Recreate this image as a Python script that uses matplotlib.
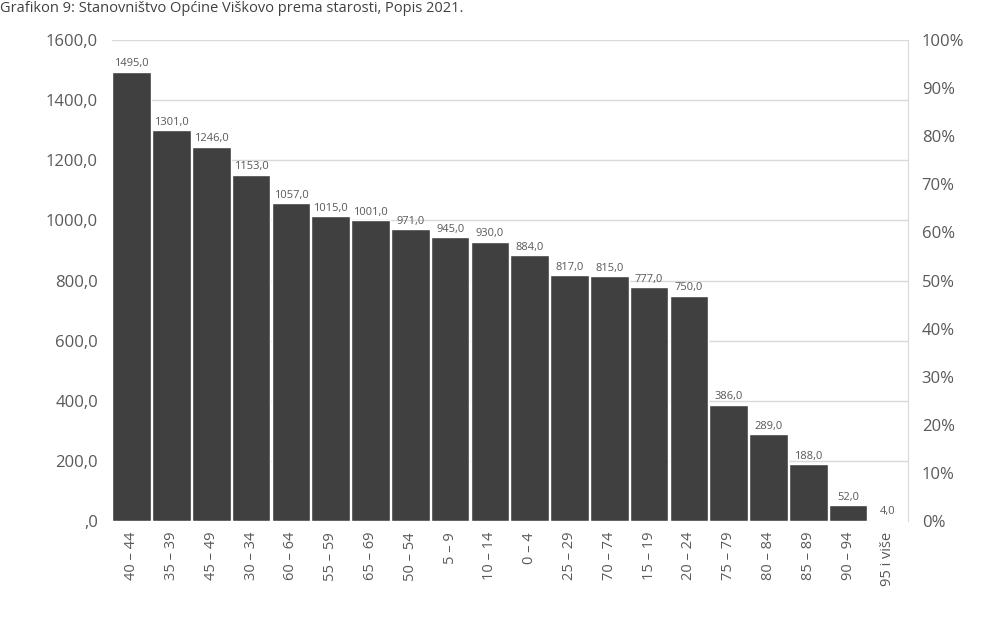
import matplotlib
matplotlib.use("Agg")
import matplotlib.pyplot as plt
from matplotlib.ticker import FuncFormatter

categories = ["40 – 44", "35 – 39", "45 – 49", "30 – 34", "60 – 64", "55 – 59",
              "65 – 69", "50 – 54", "5 – 9", "10 – 14", "0 – 4", "25 – 29",
              "70 – 74", "15 – 19", "20 – 24", "75 – 79", "80 – 84", "85 – 89",
              "90 – 94", "95 i više"]
values = [1495, 1301, 1246, 1153, 1057, 1015, 1001, 971, 945, 930, 884, 817,
          815, 777, 750, 386, 289, 188, 52, 4]
left_ticks = [0, 200, 400, 600, 800, 1000, 1200, 1400, 1600]
right_ticks = [0, 10, 20, 30, 40, 50, 60, 70, 80, 90, 100]
title = "Grafikon 9: Stanovništvo Općine Viškovo prema starosti, Popis 2021."

plt.rcParams['font.family'] = ['Open Sans', 'DejaVu Sans']
txt = '#595959'

fig = plt.figure(figsize=(9.9, 6.2), dpi=100)
ax = fig.add_axes([0.113, 0.16, 0.804, 0.775])

x = range(len(categories))
ax.bar(x, values, width=0.97, color='#404040', edgecolor='white', linewidth=1.0, zorder=3)
for i, v in zip(x, values):
    ax.text(i, v + 8, f"{v:.1f}".replace('.', ','), ha='center', va='bottom',
            fontsize=8, color=txt, zorder=4)

ax.set_xlim(-0.5, len(categories) - 0.5)
ax.set_ylim(0, 1600)
ax.set_yticks(left_ticks)
ax.yaxis.set_major_formatter(FuncFormatter(lambda v, p: ",0" if v == 0 else f"{v:.1f}".replace('.', ',')))
ax.set_xticks(list(x))
ax.set_xticklabels(categories, rotation=90, fontsize=10.5, color=txt)
ax.tick_params(axis='y', labelsize=12, colors=txt, length=0, pad=10)
ax.tick_params(axis='x', length=0, pad=8)
ax.grid(axis='y', color='#d9d9d9', linewidth=1.0, zorder=0)
for s in ['top', 'left', 'bottom']:
    ax.spines[s].set_visible(False)
ax.spines['right'].set_color('#d9d9d9')

ax2 = ax.twinx()
ax2.set_ylim(0, 100)
ax2.set_yticks(right_ticks)
ax2.set_yticklabels([f"{t}%" for t in right_ticks])
ax2.tick_params(axis='y', labelsize=12, colors=txt, length=0, pad=10)
for s in ['top', 'left', 'bottom', 'right']:
    ax2.spines[s].set_visible(False)

fig.text(0.0, 0.999, title, ha='left', va='top', fontsize=10.5, color='#404040')

fig.savefig("out.png", dpi=100, facecolor='white')
